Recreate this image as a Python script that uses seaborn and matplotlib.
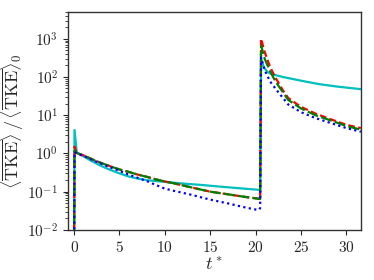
import numpy as np
import pandas as pd
import seaborn as sns
import matplotlib
matplotlib.use("Agg")
import matplotlib.pyplot as plt

# time axis and normalised TKE for each case
t_cyan = [0, 0.05, 0.3, 1, 2, 3, 4, 5, 6, 7, 8, 10, 12, 14, 16, 18, 20.5,
          20.6, 20.9, 21.3, 21.8, 23, 25, 27, 29, 31.6]
tke_cyan = [1e-3, 4.1, 1.05, 0.85, 0.62, 0.47, 0.37, 0.3, 0.25, 0.22, 0.2, 0.18,
            0.163, 0.15, 0.136, 0.124, 0.111,
            300, 180, 135, 118, 100, 80, 65, 56, 48]

t_red = [0, 0.05, 0.3, 1, 2, 3, 4, 5, 6, 7, 8, 9, 10, 11, 12, 13, 14, 15, 16,
         17, 18, 19, 20.5, 20.6, 21, 21.6, 22.2, 23, 23.6, 25, 26.6, 28.5, 30, 31.6]
tke_red = [1e-3, 1.5, 1.02, 0.9, 0.7, 0.56, 0.46, 0.38, 0.33, 0.28, 0.245, 0.21,
           0.185, 0.165, 0.145, 0.128, 0.113, 0.1, 0.092, 0.085, 0.078, 0.072, 0.065,
           1000, 450, 180, 95, 45, 28, 16.5, 11, 7.5, 5.6, 4.6]

t_green = [0, 0.05, 0.3, 1, 2, 3, 4, 5, 6, 7, 8, 9, 10, 11, 12, 13, 14, 15, 16,
           17, 18, 19, 20.5, 20.6, 21, 21.6, 22.2, 23, 23.6, 25, 26.6, 28.5, 30, 31.6]
tke_green = [1e-3, 1.2, 1.02, 0.9, 0.7, 0.56, 0.46, 0.38, 0.33, 0.28, 0.245, 0.21,
             0.185, 0.165, 0.145, 0.128, 0.113, 0.1, 0.092, 0.085, 0.078, 0.072, 0.064,
             670, 300, 140, 76, 40, 25, 15, 10, 7, 5.2, 4.2]

t_blue = [0, 0.05, 0.3, 1, 2, 3, 4, 5, 6, 7, 8, 9, 10, 11, 12, 13, 14, 15, 16,
          17, 18, 19, 20.3, 20.5, 20.6, 21, 21.6, 22.5, 23.6, 25, 26.6, 28.5, 30, 31.6]
tke_blue = [1e-3, 1.1, 1.0, 0.86, 0.68, 0.54, 0.43, 0.35, 0.28, 0.23, 0.19, 0.15,
            0.12, 0.105, 0.093, 0.082, 0.071, 0.062, 0.055, 0.049, 0.043, 0.038, 0.033,
            0.037, 320, 150, 76, 40, 19, 12, 8.4, 6, 4.6, 3.7]

sns.set_style("ticks")
plt.rcParams["font.family"] = "serif"
plt.rcParams["font.serif"] = ["cmr10"]
plt.rcParams["mathtext.fontset"] = "cm"
plt.rcParams["axes.formatter.use_mathtext"] = True
plt.rcParams["axes.unicode_minus"] = True

fig = plt.figure(figsize=(3.74, 2.80), dpi=100)
ax = fig.add_axes([0.182, 0.179, 0.783, 0.778])

series = [
    (t_cyan, tke_cyan, "c", "-"),
    (t_red, tke_red, "r", (0, (3, 1.5))),
    (t_green, tke_green, "g", (0, (5, 1.5))),
    (t_blue, tke_blue, "b", (0, (1, 1.5))),
]
for t, v, col, ls in series:
    df = pd.DataFrame({"t": t, "tke": v})
    sns.lineplot(data=df, x="t", y="tke", ax=ax, color=col, linestyle=ls,
                 lw=1.6, estimator=None, sort=False)

ax.set_yscale("log")
ax.set_ylim(1e-2, 5e3)
ax.set_xlim(-0.66, 31.6)
ax.set_xticks([0, 5, 10, 15, 20, 25, 30])
ax.tick_params(axis="both", which="major", labelsize=11, length=3.5, direction="out")
ax.tick_params(axis="both", which="minor", length=2, direction="out")
ax.set_xlabel(r"$t^*$", fontsize=13, labelpad=1)
ax.set_ylabel(r"$\langle\overline{\mathrm{TKE}}\rangle\,/\,\langle\overline{\mathrm{TKE}}\rangle_0$",
              fontsize=13, labelpad=1)
for s in ax.spines.values():
    s.set_color("#333333")
    s.set_linewidth(1.0)

fig.savefig("out.png", dpi=100)
